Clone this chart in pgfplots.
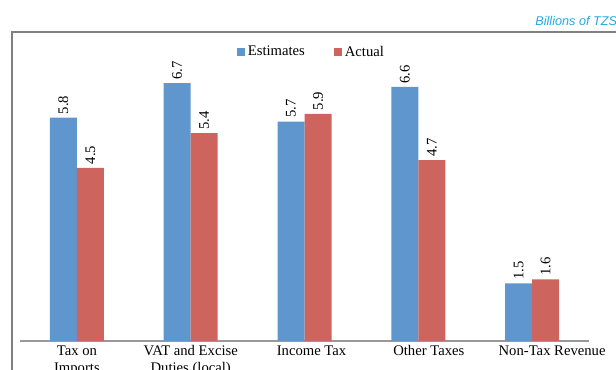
\documentclass[border=0pt]{standalone}
\usepackage{fontspec}
\setmainfont{Liberation Serif}
\newfontfamily\sansf{Liberation Sans}
\usepackage{pgfplots}
\pgfplotsset{compat=1.18}
\definecolor{est}{RGB}{94,150,205}
\definecolor{act}{RGB}{206,100,94}
\definecolor{ttl}{RGB}{34,168,224}
\begin{document}
\begin{tikzpicture}
\useasboundingbox (0,0) rectangle (462pt,277.5pt);
\clip (0,0) rectangle (462pt,277.5pt);
\draw[color=black!50, line width=0.8pt] (9pt,-5pt) -- (9pt,253.5pt) -- (470pt,253.5pt);
\node[anchor=base east, font=\sansf\itshape\fontsize{9.5}{11}\selectfont, text=ttl, inner sep=0pt] at (463pt,258.5pt) {Billions of TZS};
\begin{axis}[
  at={(15pt,21.75pt)}, anchor=south west,
  scale only axis, width=426.75pt, height=225.75pt,
  ymin=0, ymax=7.82, xmin=-0.5, xmax=4.5,
  axis x line=bottom, axis y line=none,
  axis line style={-, color=black!40, line width=0.8pt},
  xtick={0,1,2,3,4},
  xticklabels={\strut Tax on\\\strut Imports, \strut VAT and Excise\\\strut Duties (local), \strut\hspace*{10.5pt}Income Tax, \strut\hspace*{15.75pt}Other Taxes, \strut\hspace*{30pt}Non-Tax Revenue},
  xticklabel style={anchor=north, align=center, font=\fontsize{11}{12.5}\selectfont, inner sep=2pt},
  major tick length=0pt,
  ybar, bar width=20.25pt,
  nodes near coords={\pgfmathprintnumber[fixed,fixed zerofill,precision=1,assume math mode=true]{\pgfplotspointmeta}},
  every node near coord/.append style={rotate=90, anchor=west, font=\fontsize{11}{13}\selectfont, inner sep=2.5pt, text=black},
  legend columns=2,
  legend style={draw=none, fill=none, at={(0.513,0.96)}, anchor=center, font=\fontsize{11}{13}\selectfont,
    /tikz/every even column/.append style={column sep=20pt}},
  legend image code/.code={\fill[#1] (0pt,-3pt) rectangle (6pt,3pt);},
  clip=false,
]
\addplot[fill=est, draw=none, bar shift=-10.125pt] coordinates {(0,5.8) (1,6.7) (2,5.7) (3,6.6) (4,1.5)};
\addplot[fill=act, draw=none, bar shift=10.125pt] coordinates {(0,4.5) (1,5.4) (2,5.9) (3,4.7) (4,1.6)};
\legend{Estimates, Actual}
\end{axis}
\end{tikzpicture}
\end{document}
